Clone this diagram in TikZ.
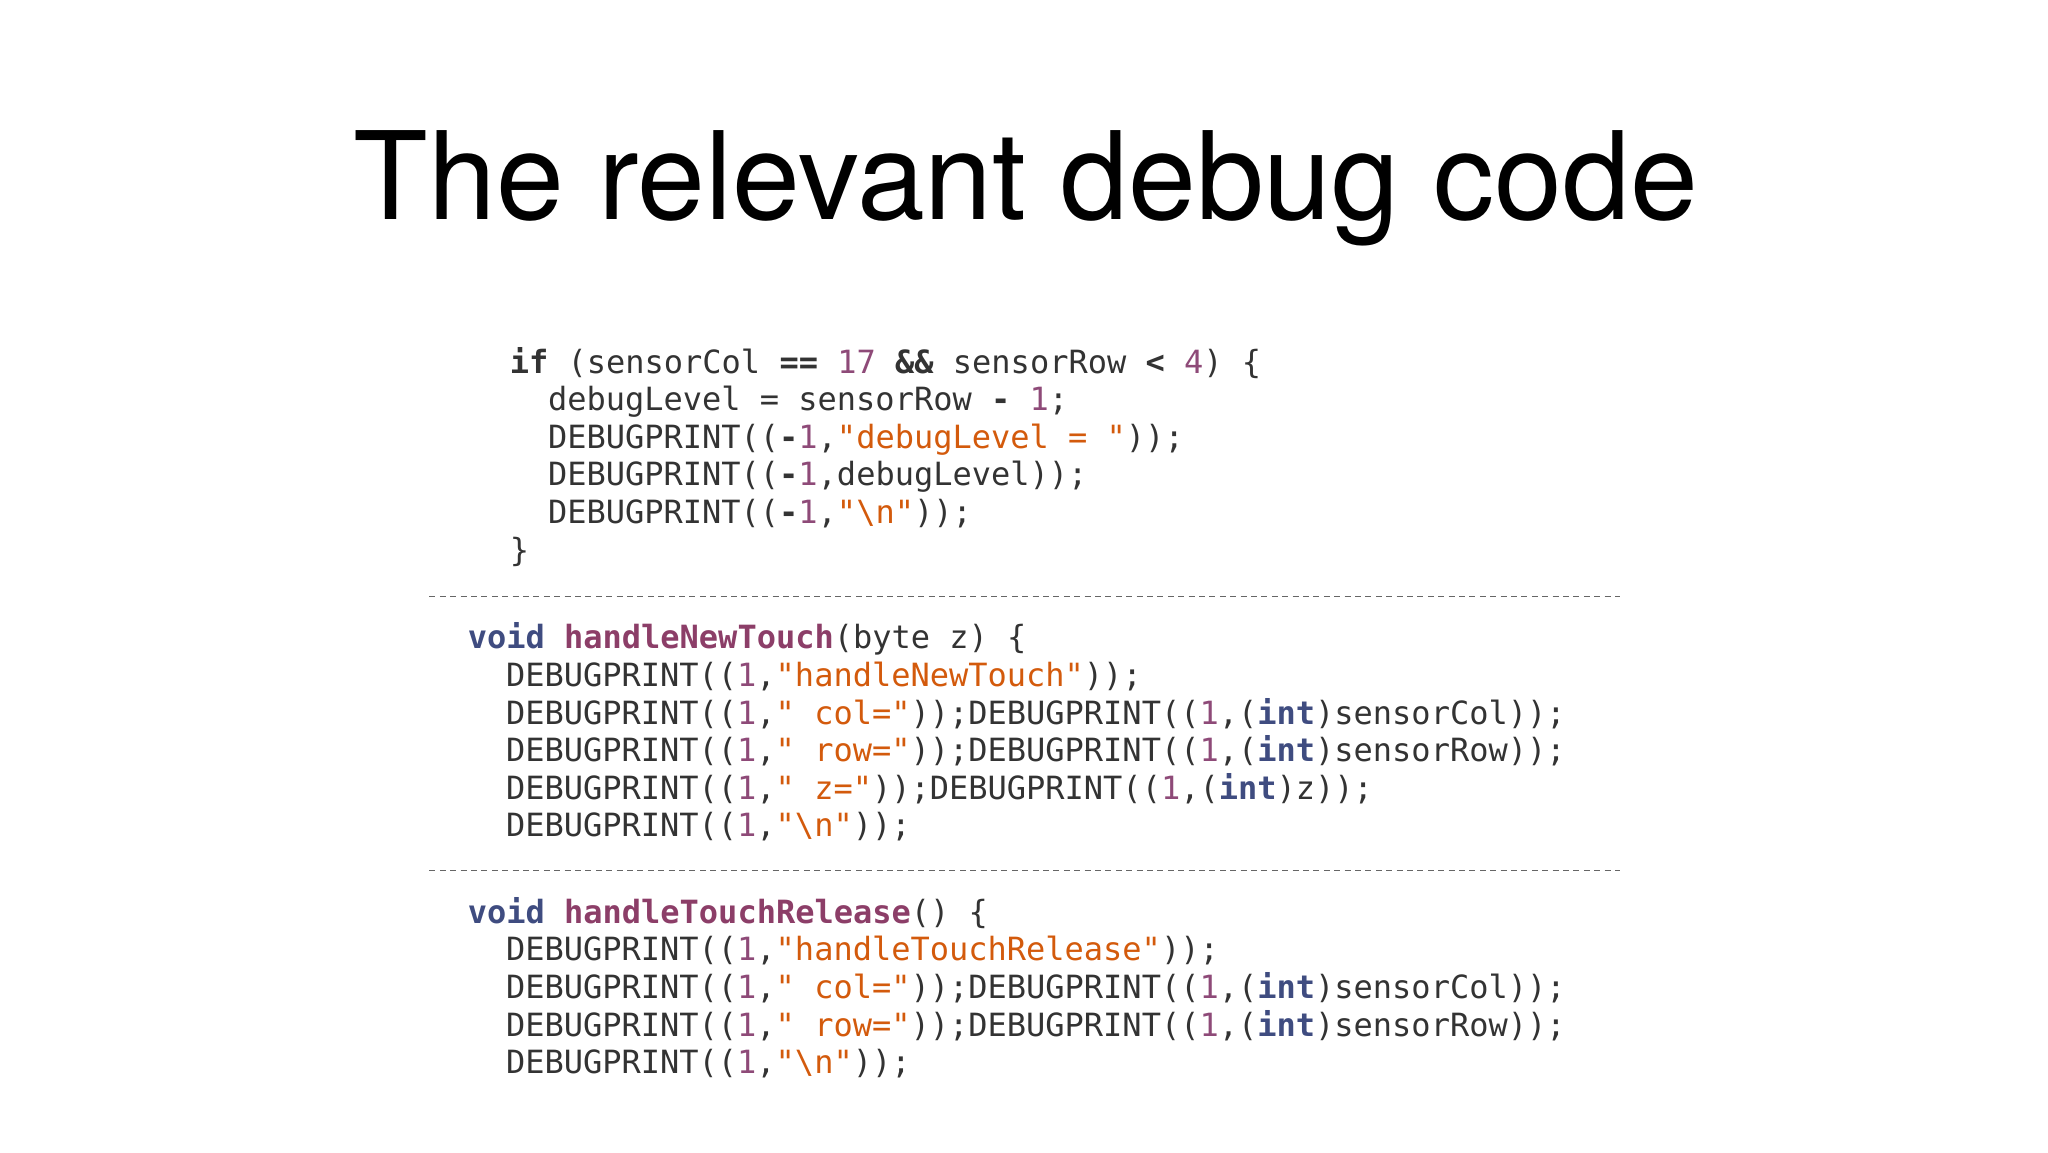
\documentclass[tikz,border=0pt]{standalone}
\usepackage{fontspec}
\setmainfont{TeX Gyre Heros}
\setmonofont{DejaVu Sans Mono}
\definecolor{codetxt}{HTML}{333333}
\definecolor{kwc}{HTML}{3F4C80}
\definecolor{fnc}{HTML}{8C3E68}
\definecolor{numc}{HTML}{8E4A78}
\definecolor{strc}{HTML}{D35A0C}
\newcommand{\kwd}[1]{\textbf{\textcolor{kwc}{#1}}}
\newcommand{\fnm}[1]{\textbf{\textcolor{fnc}{#1}}}
\newcommand{\nmb}[1]{\textcolor{numc}{#1}}
\newcommand{\str}[1]{\textcolor{strc}{#1}}
\newcommand{\opr}[1]{\textbf{#1}}
\begin{document}
\begin{tikzpicture}[x=1pt,y=1pt,
  code/.style={anchor=base west,inner sep=0pt,font=\ttfamily\fontsize{16}{18}\selectfont,text=codetxt},
  sep/.style={draw=black!60,dashed,dash pattern=on 3pt off 2.2pt,line width=0.6pt}]
\useasboundingbox (0,0) rectangle (1024,-576);
\node[anchor=base,inner sep=0pt,font=\fontsize{61}{66}\selectfont] (title) at (513,-109.9) {The relevant debug code};
% block 1
\node[code] (a1) at (254.7,-186.5) {\opr{if} (sensorCol \opr{==} \nmb{17} \opr{\&\&} sensorRow \opr{<} \nmb{4}) \{};
\node[code] (a2) at (273.8,-205.3) {debugLevel = sensorRow \opr{-} \nmb{1};};
\node[code] (a3) at (273.8,-224.1) {DEBUGPRINT((\opr{-}\nmb{1},\str{"debugLevel = "}));};
\node[code] (a4) at (273.8,-242.9) {DEBUGPRINT((\opr{-}\nmb{1},debugLevel));};
\node[code] (a5) at (273.8,-261.7) {DEBUGPRINT((\opr{-}\nmb{1},\str{"\textbackslash n"}));};
\node[code] (a6) at (254.7,-280.5) {\}};
\coordinate (d1a) at (214.7,-298.1); \coordinate (d1b) at (810,-298.1);
\draw[sep] (d1a) -- (d1b);
% block 2
\node[code] (b1) at (233.7,-324.4) {\kwd{void} \fnm{handleNewTouch}(byte z) \{};
\node[code] (b2) at (252.8,-343.2) {DEBUGPRINT((\nmb{1},\str{"handleNewTouch"}));};
\node[code] (b3) at (252.8,-362.0) {DEBUGPRINT((\nmb{1},\str{" col="}));DEBUGPRINT((\nmb{1},(\kwd{int})sensorCol));};
\node[code] (b4) at (252.8,-380.8) {DEBUGPRINT((\nmb{1},\str{" row="}));DEBUGPRINT((\nmb{1},(\kwd{int})sensorRow));};
\node[code] (b5) at (252.8,-399.6) {DEBUGPRINT((\nmb{1},\str{" z="}));DEBUGPRINT((\nmb{1},(\kwd{int})z));};
\node[code] (b6) at (252.8,-418.4) {DEBUGPRINT((\nmb{1},\str{"\textbackslash n"}));};
\coordinate (d2a) at (214.7,-435.3); \coordinate (d2b) at (810,-435.3);
\draw[sep] (d2a) -- (d2b);
% block 3
\node[code] (c1) at (233.7,-461.6) {\kwd{void} \fnm{handleTouchRelease}() \{};
\node[code] (c2) at (252.8,-480.4) {DEBUGPRINT((\nmb{1},\str{"handleTouchRelease"}));};
\node[code] (c3) at (252.8,-499.2) {DEBUGPRINT((\nmb{1},\str{" col="}));DEBUGPRINT((\nmb{1},(\kwd{int})sensorCol));};
\node[code] (c4) at (252.8,-518.0) {DEBUGPRINT((\nmb{1},\str{" row="}));DEBUGPRINT((\nmb{1},(\kwd{int})sensorRow));};
\node[code] (c5) at (252.8,-536.8) {DEBUGPRINT((\nmb{1},\str{"\textbackslash n"}));};
\end{tikzpicture}
\end{document}
